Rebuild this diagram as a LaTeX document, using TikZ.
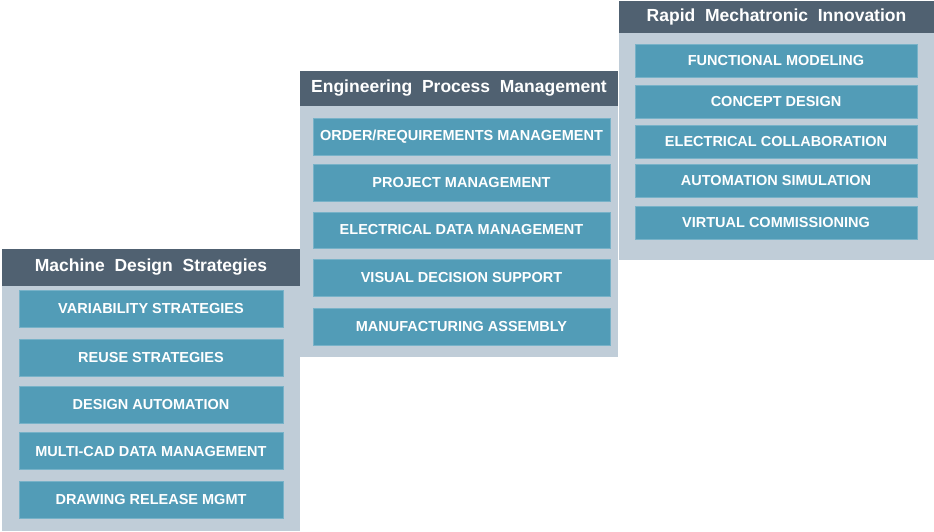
\documentclass[tikz,border=0pt]{standalone}
\usepackage{fontspec}
\setmainfont{Liberation Sans}
\definecolor{headgrey}{RGB}{80,97,113}
\definecolor{panelblue}{RGB}{192,205,216}
\definecolor{itemteal}{RGB}{82,156,183}
\definecolor{itemedge}{RGB}{120,178,200}
\tikzset{
  header/.style={fill=headgrey, text=white, font=\bfseries\fontsize{17.5}{20}\selectfont, inner sep=0pt, anchor=center},
  panel/.style={fill=panelblue, draw=none},
  item/.style={fill=itemteal, draw=itemedge, line width=0.6pt, text=white, font=\bfseries\fontsize{14.5}{17}\selectfont, inner sep=0pt, anchor=center}
}
\begin{document}
\begin{tikzpicture}[x=1pt,y=-1pt]
                \useasboundingbox (0,0) rectangle (934,531);
                % panel backgrounds
                \fill[panel] (2,286) rectangle (300,531); \fill[panel] (300,106) rectangle (618,357); \fill[panel] (619,33) rectangle (934,260);

                % headers
                \node[header, minimum width=298pt, minimum height=37pt] (mds) at (151,267.5) {Machine\ \ Design\ \ Strategies};
                \node[header, minimum width=318pt, minimum height=35pt] (epm) at (459,88.5) {Engineering\ \ Process\ \ Management};
                \node[header, minimum width=315pt, minimum height=32pt] (rmi) at (776.5,17) {Rapid\ \ Mechatronic\ \ Innovation};

                % Machine Design Strategies
                \node[item, minimum width=264pt, minimum height=37pt] (mds1) at (151,309) {VARIABILITY\ STRATEGIES};
                \node[item, minimum width=264pt, minimum height=37pt] (mds2) at (151,357.5) {REUSE STRATEGIES};
                \node[item, minimum width=264pt, minimum height=37pt] (mds3) at (151,404.5) {DESIGN AUTOMATION};
                \node[item, minimum width=264pt, minimum height=37pt] (mds4) at (151,451) {MULTI-CAD DATA\ MANAGEMENT};
                \node[item, minimum width=264pt, minimum height=37pt] (mds5) at (151,499.5) {DRAWING RELEASE\ MGMT};

                % Engineering Process Management
                \node[item, minimum width=297pt, minimum height=37pt] (epm1) at (461.5,137) {ORDER/REQUIREMENTS MANAGEMENT};
                \node[item, minimum width=297pt, minimum height=37pt] (epm2) at (461.5,183) {PROJECT MANAGEMENT};
                \node[item, minimum width=297pt, minimum height=36pt] (epm3) at (461.5,230) {ELECTRICAL\ DATA\ MANAGEMENT};
                \node[item, minimum width=297pt, minimum height=37pt] (epm4) at (461.5,277.5) {VISUAL\ DECISION SUPPORT};
                \node[item, minimum width=297pt, minimum height=37pt] (epm5) at (461.5,327) {MANUFACTURING ASSEMBLY};

                % Rapid Mechatronic Innovation
                \node[item, minimum width=282pt, minimum height=33pt] (rmi1) at (776,60.5) {FUNCTIONAL MODELING};
                \node[item, minimum width=282pt, minimum height=33pt] (rmi2) at (776,101.5) {CONCEPT DESIGN};
                \node[item, minimum width=282pt, minimum height=33pt] (rmi3) at (776,142) {ELECTRICAL\ COLLABORATION};
                \node[item, minimum width=282pt, minimum height=33pt] (rmi4) at (776,181) {AUTOMATION SIMULATION};
                \node[item, minimum width=282pt, minimum height=33pt] (rmi5) at (776,222.5) {VIRTUAL\ COMMISSIONING};
\end{tikzpicture}
\end{document}
